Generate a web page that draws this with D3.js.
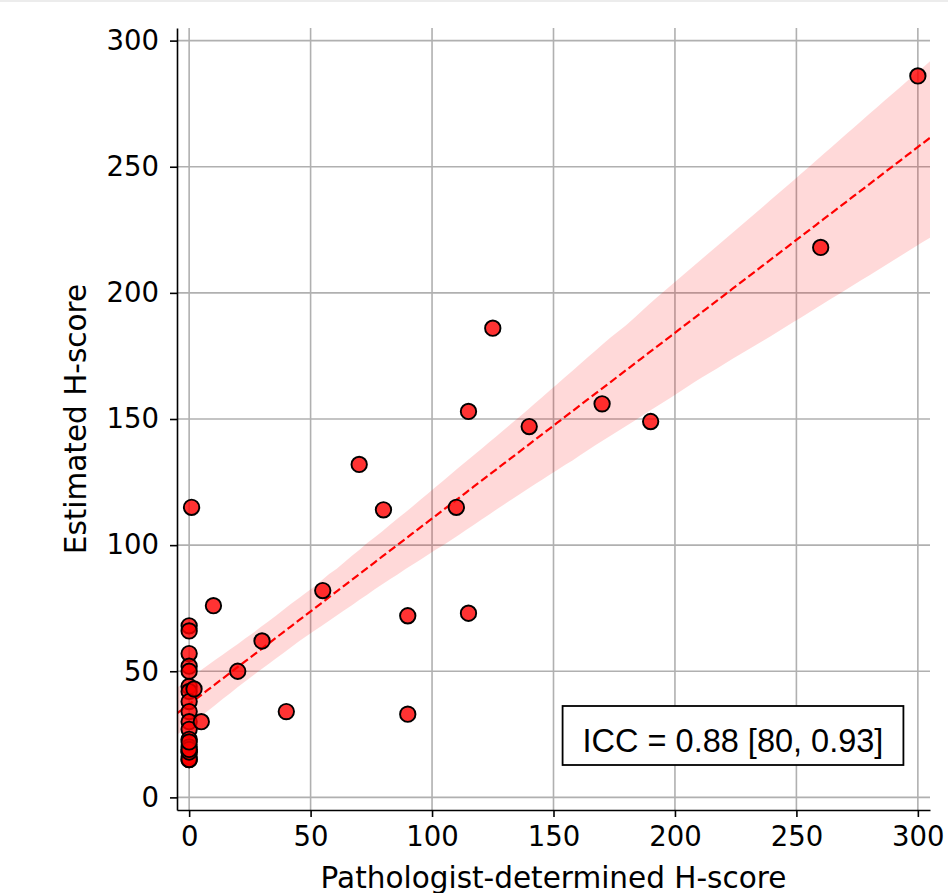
<!DOCTYPE html>
<html>
<head>
<meta charset="utf-8">
<script src="https://cdn.jsdelivr.net/npm/d3@7"></script>
<style>
  html, body { margin: 0; padding: 0; background: #fff; }
  svg { display: block; }
</style>
</head>
<body>
<svg id="chart" width="948" height="893"></svg>
<script>
// Pathologist-determined vs. estimated H-score, one entry per case
const pathologistScore = [
  0, 0, 0, 0, 0, 0, 0, 0, 0, 0, 0, 0, 0, 0, 0, 0, 0, 0, 0, 0,
  1, 2, 5, 10, 20, 30, 40, 55, 70, 80, 90, 90, 110, 115, 115, 125, 140, 170, 190, 260, 300
];
const estimatedScore = [
  68, 66, 57, 52, 50, 44, 42, 38, 34, 30, 27, 23, 20, 18, 16, 15, 15, 18, 19, 22,
  115, 43, 30, 76, 50, 62, 34, 82, 132, 114, 72, 33, 115, 153, 73, 186, 147, 156, 149, 218, 286
];
const tickValues = [0, 50, 100, 150, 200, 250, 300];
const axisLimits = [-5, 305];
const xLabel = "Pathologist-determined H-score";
const yLabel = "Estimated H-score";
const iccText = "ICC = 0.88 [80, 0.93]";

const svg = d3.select("#chart");
const W = 948, H = 893;
const plot = { left: 177, right: 930, top: 28, bottom: 810 };

svg.append("rect").attr("x", 0).attr("y", 0).attr("width", W).attr("height", 2).attr("fill", "#ececec");

const x = d3.scaleLinear().domain(axisLimits).range([plot.left, plot.right]);
const y = d3.scaleLinear().domain(axisLimits).range([plot.bottom, plot.top]);

svg.append("defs").append("clipPath").attr("id", "plot-clip")
  .append("rect")
  .attr("x", plot.left).attr("y", plot.top)
  .attr("width", plot.right - plot.left).attr("height", plot.bottom - plot.top);

// grid
const grid = svg.append("g").attr("class", "grid");
grid.selectAll("line.vx").data(tickValues).join("line")
  .attr("x1", d => x(d)).attr("x2", d => x(d))
  .attr("y1", plot.top).attr("y2", plot.bottom)
  .attr("stroke", "#b0b0b0").attr("stroke-width", 1.6);
grid.selectAll("line.hy").data(tickValues).join("line")
  .attr("y1", d => y(d)).attr("y2", d => y(d))
  .attr("x1", plot.left).attr("x2", plot.right)
  .attr("stroke", "#b0b0b0").attr("stroke-width", 1.6);

// ordinary least squares fit
const pts = pathologistScore.map((px, i) => ({ px, py: estimatedScore[i] }));
function ols(sample) {
  const n = sample.length;
  const sx = d3.sum(sample, d => d.px), sy = d3.sum(sample, d => d.py);
  const sxx = d3.sum(sample, d => d.px * d.px), sxy = d3.sum(sample, d => d.px * d.py);
  const det = n * sxx - sx * sx;
  if (det === 0) return null;
  const b = (n * sxy - sx * sy) / det;
  return { a: (sy - b * sx) / n, b };
}
const best = ols(pts);
const evalX = d3.range(100).map(i => axisLimits[0] + (axisLimits[1] - axisLimits[0]) * i / 99);

// 95% percentile bootstrap band over resampled cases (seeded, reproducible)
const rand = d3.randomInt.source(d3.randomLcg(0.42))(pts.length);
const boots = [];
for (let k = 0; k < 1000; k++) {
  const sample = pts.map(() => pts[rand()]);
  const f = ols(sample);
  if (f) boots.push(f);
}
const fit = evalX.map(gx => {
  const preds = boots.map(f => f.a + f.b * gx).sort(d3.ascending);
  return {
    gx,
    yhat: best.a + best.b * gx,
    lo: d3.quantileSorted(preds, 0.025),
    hi: d3.quantileSorted(preds, 0.975)
  };
});

const fitLayer = svg.append("g").attr("clip-path", "url(#plot-clip)");
fitLayer.append("path").datum(fit)
  .attr("d", d3.area().x(d => x(d.gx)).y0(d => y(d.lo)).y1(d => y(d.hi)))
  .attr("fill", "#ff0000").attr("fill-opacity", 0.15);
fitLayer.append("path").datum(fit)
  .attr("d", d3.line().x(d => x(d.gx)).y(d => y(d.yhat)))
  .attr("fill", "none").attr("stroke", "#ff0000").attr("stroke-width", 2.2)
  .attr("stroke-dasharray", "8,3.6");

// points
svg.append("g").selectAll("circle").data(pts).join("circle")
  .attr("cx", d => x(d.px)).attr("cy", d => y(d.py)).attr("r", 7.7)
  .attr("fill", "#ff0000").attr("fill-opacity", 0.8)
  .attr("stroke", "#000").attr("stroke-width", 1.9);

// axes
const tickFont = "'DejaVu Sans', sans-serif";
const xAxis = svg.append("g").attr("transform", `translate(0,${plot.bottom})`)
  .call(d3.axisBottom(x).tickValues(tickValues).tickSize(7).tickPadding(9).tickSizeOuter(0));
const yAxis = svg.append("g").attr("transform", `translate(${plot.left},0)`)
  .call(d3.axisLeft(y).tickValues(tickValues).tickSize(7).tickPadding(11).tickSizeOuter(0));
[xAxis, yAxis].forEach(a => {
  a.select(".domain").attr("stroke", "#000").attr("stroke-width", 1.6);
  a.selectAll(".tick line").attr("stroke", "#000").attr("stroke-width", 1.6);
  a.selectAll(".tick text").attr("fill", "#000")
    .style("font-family", tickFont).style("font-size", "27.5px");
});

svg.append("text")
  .attr("x", (plot.left + plot.right) / 2).attr("y", 888)
  .attr("text-anchor", "middle")
  .style("font-family", tickFont).style("font-size", "29.5px")
  .text(xLabel);
svg.append("text")
  .attr("transform", `translate(86,${(plot.top + plot.bottom) / 2}) rotate(-90)`)
  .attr("text-anchor", "middle")
  .style("font-family", tickFont).style("font-size", "29.5px")
  .text(yLabel);

// ICC annotation box
const box = svg.append("g");
const boxRect = box.append("rect").attr("fill", "#fff").attr("stroke", "#000").attr("stroke-width", 1.8);
const boxText = box.append("text")
  .attr("x", 733).attr("y", 752)
  .attr("text-anchor", "middle")
  .style("font-family", "'Liberation Sans', Arial, sans-serif").style("font-size", "32.5px")
  .text(iccText);
const tw = boxText.node().getComputedTextLength();
boxRect.attr("x", 733 - tw / 2 - 20).attr("y", 706)
  .attr("width", tw + 40).attr("height", 59);
</script>
</body>
</html>
